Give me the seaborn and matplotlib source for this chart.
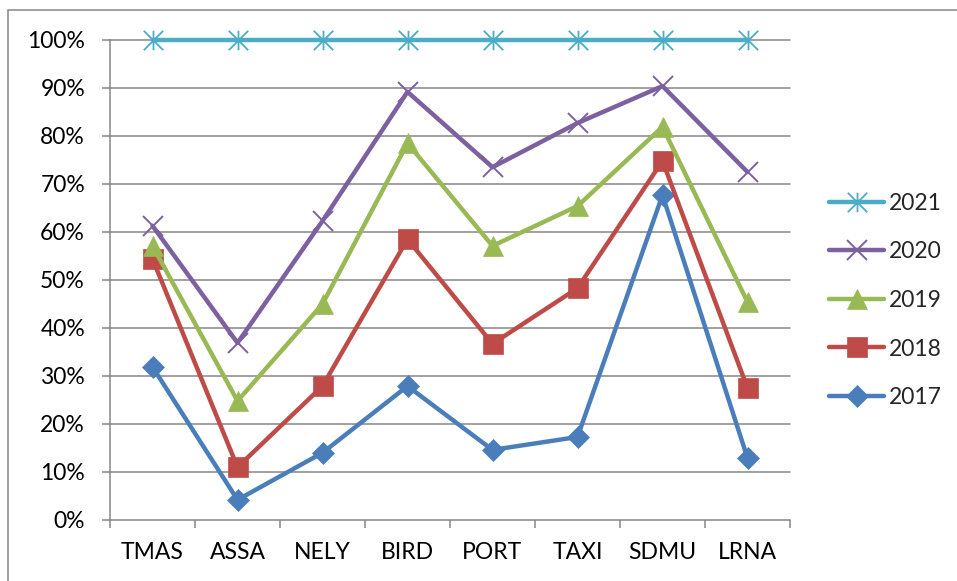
import matplotlib
matplotlib.use("Agg")
import matplotlib.pyplot as plt
from matplotlib.path import Path
from matplotlib.patches import Rectangle
import seaborn as sns
import pandas as pd

# Share of each site per year (percent)
sites = ["TMAS", "ASSA", "NELY", "BIRD", "PORT", "TAXI", "SDMU", "LRNA"]
y2017 = [31.9, 4.2, 14.0, 27.9, 14.6, 17.3, 67.7, 12.9]
y2018 = [54.4, 11.0, 27.9, 58.5, 36.7, 48.3, 74.8, 27.5]
y2019 = [57.1, 24.8, 45.0, 78.5, 57.1, 65.4, 81.9, 45.4]
y2020 = [61.3, 36.9, 62.3, 89.2, 73.5, 82.7, 90.4, 72.5]
y2021 = [100, 100, 100, 100, 100, 100, 100, 100]
years = ["2017", "2018", "2019", "2020", "2021"]
yticks = [0, 10, 20, 30, 40, 50, 60, 70, 80, 90, 100]
ytick_labels = [f"{v}%" for v in yticks]

series = dict(zip(years, [y2017, y2018, y2019, y2020, y2021]))
df = pd.DataFrame(
    [(s, yr, v) for yr, vals in series.items() for s, v in zip(sites, vals)],
    columns=["site", "year", "value"],
)

# Excel-style star marker: an X inside its box plus a vertical bar
star = Path(
    [(0, -1), (0, 1), (-1, -1), (1, 1), (-1, 1), (1, -1)],
    [Path.MOVETO, Path.LINETO, Path.MOVETO, Path.LINETO, Path.MOVETO, Path.LINETO],
)

style = {
    "2017": dict(color="#4A7EBB", marker="D", ms=11, mew=0.5),
    "2018": dict(color="#BE4B48", marker="s", ms=14, mew=0.5),
    "2019": dict(color="#98B954", marker="^", ms=15, mew=0.5),
    "2020": dict(color="#7D60A0", marker="x", ms=14, mew=1.4),
    "2021": dict(color="#4BACC6", marker=star, ms=14, mew=1.3),
}

sns.set_theme(style="white")
plt.rcParams["font.family"] = ["Lato", "DejaVu Sans"]
FS = 16.5

fig = plt.figure(figsize=(9.57, 5.81), dpi=100)
ax = fig.add_axes([110 / 957, 1 - 520 / 581, 680 / 957, 480 / 581])

grid_c = "#868686"
fig.patches.append(
    Rectangle((8 / 957, -0.1), 1.2, 1 - 10 / 581 + 0.1, transform=fig.transFigure,
              fill=False, edgecolor=grid_c, linewidth=1.1, zorder=0)
)

for yr in years:
    st = style[yr]
    sns.lineplot(
        data=df[df["year"] == yr], x="site", y="value", ax=ax, sort=False,
        color=st["color"], linewidth=3.2, marker=st["marker"], markersize=st["ms"],
        markeredgewidth=st["mew"], markeredgecolor=st["color"],
        markerfacecolor=st["color"], label=yr, errorbar=None, clip_on=False,
    )

ax.set_xlim(-0.5, len(sites) - 0.5)
ax.set_ylim(0, 100)
ax.set_yticks(yticks)
ax.set_yticklabels(ytick_labels)
ax.set_xticks(range(len(sites)))
ax.set_xticklabels(sites)
ax.set_xticks([i - 0.5 for i in range(len(sites) + 1)], minor=True)
ax.set_xlabel("")
ax.set_ylabel("")

for y in yticks[1:]:
    ax.axhline(y, color=grid_c, linewidth=1.1, zorder=0.5, clip_on=False)

for side in ["top", "right"]:
    ax.spines[side].set_visible(False)
for side in ["left", "bottom"]:
    ax.spines[side].set_color(grid_c)
    ax.spines[side].set_linewidth(1.1)

ax.tick_params(axis="y", which="major", direction="out", length=6, width=1.1,
               color=grid_c, left=True, pad=12, labelsize=FS, labelcolor="black")
ax.tick_params(axis="x", which="major", length=0, pad=16, labelsize=FS,
               labelcolor="black", bottom=True)
ax.tick_params(axis="x", which="minor", direction="out", length=6, width=1.1,
               color=grid_c, bottom=True)

handles, labels = ax.get_legend_handles_labels()
ax.legend(handles[::-1], labels[::-1], loc="center left",
          bbox_to_anchor=(829 / 957, 1 - 300.5 / 581), bbox_transform=fig.transFigure,
          frameon=False, fontsize=FS, handlelength=2.4, handletextpad=0.2,
          labelspacing=1.2, borderpad=0, borderaxespad=0)

fig.savefig("out.png", dpi=100, facecolor="white")
